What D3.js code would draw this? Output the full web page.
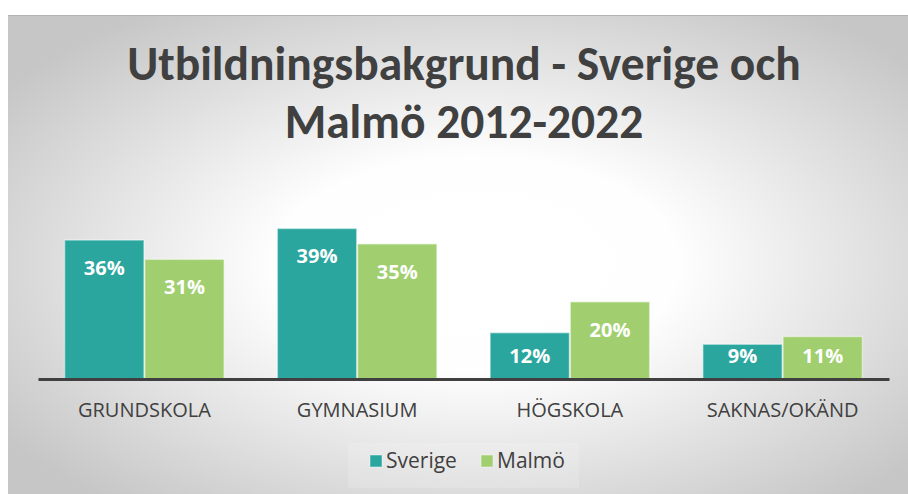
<!DOCTYPE html>
<html>
<head>
    <meta charset="utf-8">
    <script src="https://d3js.org/d3.v7.min.js"></script>
    <style>
        body { margin: 0; background: #fff; }
    </style>
</head>
<body>
    <svg id="chart"></svg>
    <script>
        // data
        var categories = ["GRUNDSKOLA", "GYMNASIUM", "HÖGSKOLA", "SAKNAS/OKÄND"];
        var seriesNames = ["Sverige", "Malmö"];
        var sverige = [36, 39, 12, 9];
        var malmo = [31, 35, 20, 11];
        var titleLines = ["Utbildningsbakgrund - Sverige och", "Malmö 2012-2022"];

        var colors = { "Sverige": "#2aa69f", "Malmö": "#a1cf6f" };

        var W = 908, H = 494;
        var svg = d3.select("#chart").attr("width", W).attr("height", H);

        // background gradient
        var defs = svg.append("defs");
        var grad = defs.append("radialGradient").attr("id", "bg")
            .attr("cx", "52%").attr("cy", "52%").attr("r", "64%");
        grad.append("stop").attr("offset", "0%").attr("stop-color", "#ffffff");
        grad.append("stop").attr("offset", "35%").attr("stop-color", "#fefefe");
        grad.append("stop").attr("offset", "100%").attr("stop-color", "#c6c6c6");

        svg.append("rect").attr("x", 8).attr("y", 15).attr("width", W - 8).attr("height", H - 15)
            .attr("fill", "url(#bg)");
        svg.append("line").attr("x1", 8).attr("x2", W).attr("y1", 15.5).attr("y2", 15.5)
            .attr("stroke", "#b4b4b4").attr("stroke-width", 1);

        // title
        svg.append("g").selectAll("text")
            .data(titleLines)
            .join("text")
            .attr("x", 464)
            .attr("y", (d, i) => 80 + i * 58)
            .attr("text-anchor", "middle")
            .style("font-family", "Carlito, 'Open Sans', sans-serif")
            .style("font-weight", "bold")
            .style("font-size", "47.5px")
            .style("fill", "#404040")
            .text(d => d);

        // scales
        var baseline = 379;
        var x0 = d3.scaleBand().domain(categories).range([38, 889])
            .paddingInner(0.25).paddingOuter(0.125);
        var x1 = d3.scaleBand().domain(seriesNames).range([0, x0.bandwidth()]).paddingInner(0.01);
        var y = d3.scaleLinear().domain([0, 45]).range([baseline, baseline - 45 * 3.86]);

        var rows = categories.map((c, i) => ({
            cat: c,
            vals: [{ s: "Sverige", v: sverige[i] }, { s: "Malmö", v: malmo[i] }]
        }));

        var groups = svg.append("g").selectAll("g")
            .data(rows)
            .join("g")
            .attr("transform", d => "translate(" + x0(d.cat) + ",0)");

        groups.selectAll("rect")
            .data(d => d.vals)
            .join("rect")
            .attr("x", d => x1(d.s))
            .attr("y", d => y(d.v))
            .attr("width", x1.bandwidth())
            .attr("height", d => baseline - y(d.v))
            .attr("fill", d => colors[d.s])
            .attr("stroke", "rgba(255,255,255,0.45)")
            .attr("stroke-width", 1.5);

        groups.selectAll("text")
            .data(d => d.vals)
            .join("text")
            .attr("x", d => x1(d.s) + x1.bandwidth() / 2)
            .attr("y", d => Math.min(y(d.v) + 28, baseline - 23))
            .attr("dy", "0.35em")
            .attr("text-anchor", "middle")
            .style("font-family", "'Open Sans', sans-serif")
            .style("font-weight", "bold")
            .style("font-size", "20px")
            .style("fill", "#ffffff")
            .text(d => d.v + "%");

        // axis
        var xAxis = d3.axisBottom(x0).tickSize(0).tickPadding(24);
        var ax = svg.append("g").attr("transform", "translate(0," + baseline + ")").call(xAxis);
        ax.select(".domain").attr("stroke", "#404040").attr("stroke-width", 3);
        ax.selectAll(".tick text")
            .style("font-family", "'Open Sans', sans-serif")
            .style("font-size", "20px")
            .style("fill", "#404040");

        // legend
        var legend = svg.append("g");
        legend.append("rect").attr("x", 348).attr("y", 443).attr("width", 231).attr("height", 45)
            .attr("fill", "rgba(255,255,255,0.15)");
        var lx = d3.scaleOrdinal().domain(seriesNames).range([370, 481]);
        var li = legend.selectAll("g.item")
            .data(seriesNames)
            .join("g")
            .attr("class", "item")
            .attr("transform", d => "translate(" + lx(d) + ",455)");
        li.append("rect").attr("width", 12).attr("height", 12)
            .attr("fill", d => colors[d])
            .attr("stroke", "rgba(255,255,255,0.45)");
        li.append("text").attr("x", 16).attr("y", 6).attr("dy", "0.35em")
            .style("font-family", "'Open Sans', sans-serif")
            .style("font-size", "21px")
            .style("fill", "#404040")
            .text(d => d);
    </script>
</body>
</html>
